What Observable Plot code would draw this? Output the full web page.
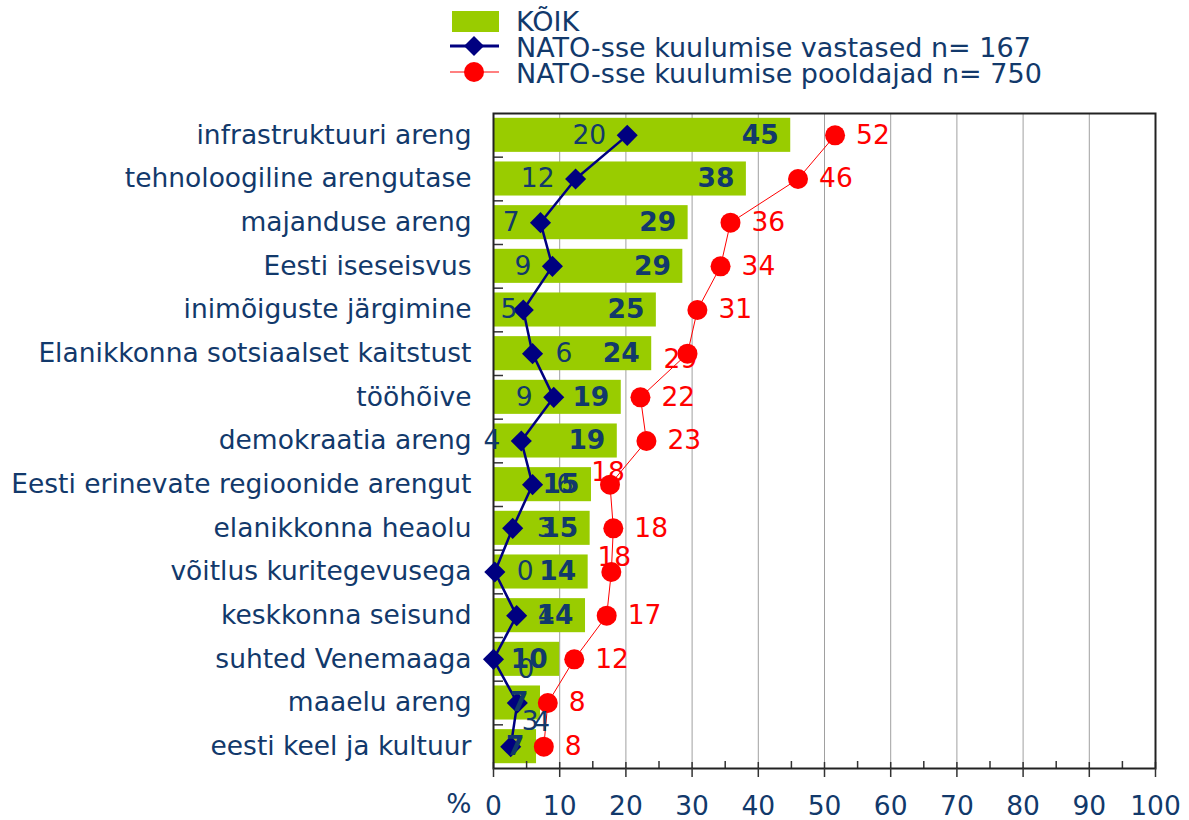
<!DOCTYPE html>
<html><head><meta charset="utf-8">
<script src="https://cdn.jsdelivr.net/npm/d3@7"></script>
<script src="https://cdn.jsdelivr.net/npm/@observablehq/plot@0.6"></script>
<style>
body{margin:0;background:#fff;font-family:"DejaVu Sans",Verdana,sans-serif;}
#wrap{position:relative;width:1189px;height:820px;overflow:hidden;}
#legend{position:absolute;left:0;top:0;width:1189px;height:95px;}
#legend svg{position:absolute;left:0;top:0;}
#chart{position:absolute;left:0;top:95px;}
.lg{position:absolute;left:516px;font-size:27px;color:#12396b;line-height:27px;white-space:nowrap;transform:translateY(-50%);}
</style></head><body>
<div id="wrap">
  <div id="legend">
    <svg width="1189" height="95">
      <rect x="452" y="11" width="47" height="21" fill="#99cc00"></rect>
      <line x1="450" x2="499" y1="46" y2="46" stroke="#000080" stroke-width="3"></line>
      <path d="M474,36 L484,46 L474,56 L464,46 Z" fill="#000080"></path>
      <line x1="450" x2="499" y1="72" y2="72" stroke="#ff8080" stroke-width="2"></line>
      <circle cx="474" cy="72" r="10" fill="#ff0000"></circle>
    </svg>
    <div class="lg" style="top:21px">KÕIK</div>
    <div class="lg" style="top:47px">NATO-sse kuulumise vastased n= 167</div>
    <div class="lg" style="top:73px">NATO-sse kuulumise pooldajad n= 750</div>
  </div>
  <div id="chart"></div>
</div>
<script>
const categories = [
  "infrastruktuuri areng",
  "tehnoloogiline arengutase",
  "majanduse areng",
  "Eesti iseseisvus",
  "inimõiguste järgimine",
  "Elanikkonna sotsiaalset kaitstust",
  "tööhõive",
  "demokraatia areng",
  "Eesti erinevate regioonide arengut",
  "elanikkonna heaolu",
  "võitlus kuritegevusega",
  "keskkonna seisund",
  "suhted Venemaaga",
  "maaelu areng",
  "eesti keel ja kultuur"
];
const koik =      [44.9, 38.2, 29.4, 28.6, 24.6, 23.9, 19.3, 18.7, 14.8, 14.6, 14.3, 13.9, 10.0, 7.1, 6.5];
const vastased =  [20.2, 12.4, 7.1, 8.9, 4.5, 5.9, 9.1, 4.2, 5.9, 2.9, 0.2, 3.5, 0.0, 3.6, 2.6];
const pooldajad = [51.6, 46.0, 35.8, 34.3, 30.8, 29.3, 22.2, 23.1, 17.6, 18.1, 17.8, 17.1, 12.2, 8.2, 7.6];
const xTicks = [0, 10, 20, 30, 40, 50, 60, 70, 80, 90, 100];
const xMinorTicks = [5, 15, 25, 35, 45, 55, 65, 75, 85, 95];

const rows = categories.map((c, i) => ({cat: c, all: koik[i], vast: vastased[i], pool: pooldajad[i]}));

// label placement (style only)
const bluePlace = {
  "inimõiguste järgimine": {dx: -6, dy: 0, a: "end"},
  "Elanikkonna sotsiaalset kaitstust": {dx: 23, dy: 0, a: "start"},
  "Eesti erinevate regioonide arengut": {dx: 24, dy: 0, a: "start"},
  "elanikkonna heaolu": {dx: 24, dy: 0, a: "start"},
  "võitlus kuritegevusega": {dx: 22, dy: 0, a: "start"},
  "keskkonna seisund": {dx: 21, dy: 0, a: "start"},
  "suhted Venemaaga": {dx: 24, dy: 10, a: "start"},
  "maaelu areng": {dx: 16, dy: 20, a: "start"},
  "eesti keel ja kultuur": {dx: 11, dy: -25, a: "start"}
};
const redPlace = {
  "Elanikkonna sotsiaalset kaitstust": {dx: -7, dy: 6, a: "middle"},
  "Eesti erinevate regioonide arengut": {dx: -2, dy: -12, a: "middle"},
  "võitlus kuritegevusega": {dx: 3, dy: -14, a: "middle"}
};

const navy = "#12396b";
const W = 1189, H = 725, mT = 18, mB = 52, mL = 493, mR = 34;
const frameH = H - mT - mB, frameW = W - mL - mR;
const step = frameH / categories.length;
const FS = 26.5;

const blueLabels = rows.map(r => {
  const p = bluePlace[r.cat] || {dx: -21, dy: 0, a: "end"};
  return Plot.text([r], {x: "vast", y: "cat", text: d => String(Math.round(d.vast)), dx: p.dx, dy: p.dy, textAnchor: p.a, fill: navy, fontSize: FS});
});
const redLabels = rows.map(r => {
  const p = redPlace[r.cat] || {dx: 21, dy: 0, a: "start"};
  return Plot.text([r], {x: "pool", y: "cat", text: d => String(Math.round(d.pool)), dx: p.dx, dy: p.dy, textAnchor: p.a, fill: "#ff0000", fontSize: FS});
});

const chart = Plot.plot({
  width: W, height: H,
  marginTop: mT, marginBottom: mB, marginLeft: mL, marginRight: mR,
  style: {fontFamily: "DejaVu Sans, Verdana, sans-serif", fontSize: FS + "px", color: navy, background: "#fff"},
  x: {domain: [0, 100]},
  y: {domain: categories, paddingInner: 0.22, paddingOuter: 0.11, round: false},
  marks: [
    Plot.ruleX(xTicks.slice(1, -1), {stroke: "#a0a0a0", strokeWidth: 1}),
    Plot.barX(rows, {x: "all", y: "cat", fill: "#99cc00"}),
    Plot.ruleY(categories.slice(1), {y: d => d, dy: -step / 2, insetRight: frameW - 10, stroke: "#333", strokeWidth: 1.5}),
    Plot.ruleX(xMinorTicks, {insetTop: frameH - 7, stroke: "#333", strokeWidth: 1.5}),
    Plot.ruleX(xTicks, {insetTop: frameH - 6, stroke: "#333", strokeWidth: 1.5}),
    Plot.frame({stroke: "#222", strokeWidth: 2}),
    Plot.axisY({tickSize: 0, tickPadding: 22, fontSize: FS, fill: navy, label: null}),
    Plot.axisX({ticks: xTicks, tickSize: 9, tickPadding: 19, stroke: "#333", strokeWidth: 1.5, fontSize: FS, fill: navy, label: null}),
    Plot.text(["%"], {frameAnchor: "bottom-left", lineAnchor: "middle", dx: -22, dy: 36, textAnchor: "end", fill: navy, fontSize: FS}),
    Plot.line(rows, {x: "pool", y: "cat", stroke: "#ff0000", strokeWidth: 1}),
    Plot.dot(rows, {x: "pool", y: "cat", r: 10, fill: "#ff0000", stroke: "none"}),
    Plot.line(rows, {x: "vast", y: "cat", stroke: "#000080", strokeWidth: 2.5}),
    Plot.dot(rows, {x: "vast", y: "cat", r: 9.5, symbol: "diamond2", fill: "#000080", stroke: "none"}),
    Plot.text(rows, {x: "all", y: "cat", text: d => String(Math.round(d.all)), dx: -12, textAnchor: "end", fontWeight: "bold", fill: navy, fontSize: FS}),
    ...blueLabels,
    ...redLabels
  ]
});
document.getElementById("chart").appendChild(chart);
</script>
</body></html>
